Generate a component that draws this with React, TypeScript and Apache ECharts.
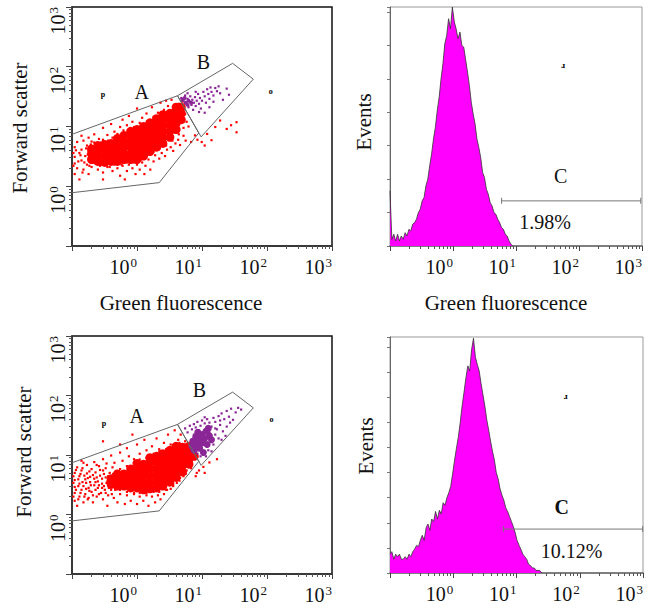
import React, { useEffect, useRef } from 'react';
import * as echarts from 'echarts';

const FONT = '"Liberation Serif", "Times New Roman", Times, serif';

// ---------- axis tick values ----------
const minorTicks = [0.2, 0.3, 0.4, 0.5, 0.6, 0.7, 0.8, 0.9, 2, 3, 4, 5, 6, 7, 8, 9, 20, 30, 40, 50, 60, 70, 80, 90, 200, 300, 400, 500, 600, 700, 800, 900];

// ---------- gates (fluorescence, forward scatter) ----------
const gateA = [[0.1, 7.4], [4.2, 32.7], [8.9, 7.8], [2.2, 1.15], [0.1, 0.78]];
const gateB = [[4.2, 32.7], [29.6, 114], [61.6, 62], [9.7, 6.7], [4.2, 32.7]];

// ---------- top scatter ----------
const topRedCore = [
  [0.2, 2.8], [0.2, 3.5], [0.2, 4.2],
  [0.25, 2.6], [0.25, 3.3], [0.25, 4.2], [0.25, 4.8],
  [0.32, 2.5], [0.32, 3.2], [0.32, 4.0], [0.32, 5.0],
  [0.4, 2.6], [0.4, 3.3], [0.4, 4.2], [0.4, 5.2],
  [0.5, 2.6], [0.5, 3.3], [0.5, 4.2], [0.5, 5.2], [0.5, 6.3],
  [0.63, 2.8], [0.63, 3.5], [0.63, 4.5], [0.63, 5.6], [0.63, 7.1],
  [0.8, 2.8], [0.8, 3.5], [0.8, 4.5], [0.8, 5.6], [0.8, 7.1], [0.8, 8.3],
  [1, 2.8], [1, 3.5], [1, 4.5], [1, 5.6], [1, 7.1], [1, 8.9],
  [1.26, 3.2], [1.26, 4], [1.26, 5], [1.26, 6.3], [1.26, 7.9], [1.26, 10],
  [1.58, 3.8], [1.58, 4.8], [1.58, 6], [1.58, 7.6], [1.58, 9.5], [1.58, 11.5],
  [2, 4.5], [2, 5.6], [2, 7.1], [2, 8.9], [2, 11.2], [2, 13.5],
  [2.5, 5.2], [2.5, 6.6], [2.5, 8.3], [2.5, 10.5], [2.5, 13.2], [2.5, 15.8],
  [3.2, 6.6], [3.2, 8.3], [3.2, 10.5], [3.2, 13.2], [3.2, 16.6],
  [4, 8.9], [4, 11.2], [4, 14.1], [4, 17.8], [4, 21],
  [4.8, 13], [4.8, 16.6], [4.8, 21],
];
const topRedSparse = [
  [0.11, 1.6], [0.11, 2.4], [0.11, 3.1], [0.11, 4.5], [0.12, 5.5], [0.12, 2.0], [0.13, 3.6], [0.13, 1.3], [0.14, 2.7], [0.14, 4.1],
  [0.15, 5.8], [0.15, 1.9], [0.16, 3.2], [0.17, 2.3], [0.17, 4.8], [0.18, 1.6], [0.18, 6.5], [0.19, 2.9],
  [0.14, 7.0], [0.2, 5.6], [0.22, 7.4], [0.26, 6.2], [0.3, 9.5], [0.3, 6.0], [0.35, 7.2], [0.4, 11], [0.42, 6.5], [0.45, 8.2],
  [0.5, 7.5], [0.55, 9.8], [0.6, 13], [0.62, 8.6], [0.7, 10.5], [0.75, 15], [0.85, 12], [0.9, 9.8], [1.0, 20], [1.1, 11.5],
  [1.2, 14], [1.4, 16.5], [1.5, 12.5], [1.7, 21], [1.8, 14.5], [2.1, 17], [2.3, 25], [2.6, 19], [3.0, 22], [3.4, 28], [3.6, 20], [2.8, 27],
  [0.2, 2.1], [0.25, 1.9], [0.3, 1.7], [0.35, 2.1], [0.42, 1.8], [0.5, 2.0], [0.55, 1.5], [0.6, 2.2], [0.7, 1.8], [0.75, 2.3],
  [0.85, 2.0], [0.95, 1.6], [1.0, 2.3], [1.1, 1.9], [1.2, 2.5], [1.35, 2.2], [1.5, 2.8], [1.6, 1.9], [1.8, 2.6], [1.9, 3.3],
  [2.2, 2.9], [2.4, 3.6], [2.7, 3.2], [2.9, 4.1], [3.3, 4.5], [3.6, 3.9], [3.9, 5.2], [4.3, 6.0], [4.6, 4.9], [5.2, 7.0],
  [5.6, 5.8], [0.3, 1.3], [0.65, 1.3], [1.3, 1.6],
  [0.18, 3.9], [0.22, 4.6], [0.23, 3.0], [0.28, 2.3], [0.28, 5.4], [0.36, 5.8], [0.45, 2.3], [0.56, 6.8], [0.7, 2.5], [0.72, 7.8],
  [0.9, 2.5], [0.9, 9.0], [1.15, 2.8], [1.15, 9.3], [1.4, 3.3], [1.4, 11.0], [1.8, 3.8], [1.8, 12.5], [2.2, 4.2], [2.2, 14.8],
  [2.8, 4.8], [2.8, 17], [3.5, 5.8], [3.5, 18.5], [4.4, 7.4], [4.4, 24], [5.2, 9.5], [5.5, 16], [5.8, 12], [6.2, 10], [5.0, 26],
  [7.8, 7.1], [9.9, 5.5], [14, 5.9], [19, 12.6], [24, 9.1], [34, 8.0], [34, 11.8], [12, 7.5], [8.5, 6.0], [16, 9.8], [28, 10.5], [11, 4.8], [6.8, 5.5],
  [0.105, 2.2], [0.105, 3.6], [0.115, 4.0], [0.125, 2.6], [0.135, 3.3], [0.145, 1.7], [0.155, 2.5], [0.165, 4.3], [0.175, 3.4], [0.185, 2.2],
  [0.195, 5.0], [0.21, 2.5], [0.22, 5.4], [0.27, 2.2], [0.3, 5.8], [0.38, 2.1], [0.45, 6.0], [0.58, 2.3], [0.6, 7.0], [0.75, 8.4],
];
const topPurpleCore = [[5.0, 28], [5.6, 25], [6.2, 27], [6.0, 23], [5.4, 30], [6.8, 25]];
const topPurple = [
  [4.8, 30], [5.2, 27], [5.5, 33], [5.8, 24], [6.0, 29], [6.2, 21], [6.5, 26], [6.6, 32], [6.9, 23], [7.1, 28],
  [7.3, 19], [7.5, 25], [7.8, 31], [8.0, 22], [8.3, 27], [8.7, 35], [9.0, 24], [9.3, 30], [9.6, 20], [10, 27],
  [10.5, 38], [11, 32], [11.5, 25], [12, 42], [12.5, 35], [13, 29], [13.5, 45], [14, 38], [15, 33], [16, 44],
  [17, 39], [18, 47], [19, 36], [21, 28], [24, 43], [11, 17], [9, 17.5], [13, 21], [8, 38], [6, 36], [15, 26], [26, 34],
];

// ---------- bottom scatter ----------
const bottomRedCore = [
  [0.4, 3.2], [0.4, 4.0],
  [0.5, 3.0], [0.5, 3.8], [0.5, 4.8],
  [0.63, 3.0], [0.63, 3.8], [0.63, 4.8],
  [0.8, 2.8], [0.8, 3.6], [0.8, 4.6], [0.8, 5.8],
  [1, 2.8], [1, 3.6], [1, 4.6], [1, 5.8], [1, 7.2],
  [1.26, 2.6], [1.26, 3.4], [1.26, 4.4], [1.26, 5.6], [1.26, 7.0],
  [1.58, 2.7], [1.58, 3.5], [1.58, 4.5], [1.58, 5.8], [1.58, 7.4], [1.58, 9.0],
  [2, 2.8], [2, 3.6], [2, 4.6], [2, 5.9], [2, 7.6], [2, 9.5],
  [2.5, 3.0], [2.5, 3.9], [2.5, 5.0], [2.5, 6.4], [2.5, 8.2], [2.5, 10.5],
  [3.2, 3.5], [3.2, 4.5], [3.2, 5.8], [3.2, 7.4], [3.2, 9.5], [3.2, 12],
  [4, 4.2], [4, 5.4], [4, 6.9], [4, 8.8], [4, 11.2], [4, 14],
  [5, 5.2], [5, 6.6], [5, 8.4], [5, 10.7], [5, 13.5],
  [6.3, 7.0], [6.3, 9], [6.3, 11.5], [6.3, 14],
  [7.6, 9.5], [7.2, 10.5],
];
const bottomRedSparse = [
  [0.11, 1.7], [0.11, 2.3], [0.11, 2.9], [0.11, 3.8], [0.11, 5.0], [0.12, 1.4], [0.12, 6.2], [0.13, 2.0], [0.13, 3.3], [0.13, 4.4],
  [0.14, 2.6], [0.14, 5.5], [0.15, 1.6], [0.15, 3.0], [0.16, 3.9], [0.16, 2.2], [0.17, 4.9], [0.17, 6.8], [0.18, 1.9], [0.18, 2.8],
  [0.19, 3.5], [0.19, 4.3], [0.2, 5.8], [0.2, 2.4], [0.21, 1.6], [0.22, 3.1], [0.22, 4.0], [0.23, 5.1], [0.24, 2.0], [0.25, 2.8],
  [0.25, 3.6], [0.26, 6.5], [0.27, 4.5], [0.28, 2.3], [0.29, 3.3], [0.3, 5.5], [0.3, 1.8], [0.32, 2.6], [0.33, 4.2], [0.34, 7.2],
  [0.35, 3.6], [0.36, 2.1], [0.38, 5.0], [0.4, 2.6], [0.42, 6.2], [0.44, 1.9], [0.45, 4.3], [0.47, 3.4],
  [0.14, 8.0], [0.22, 7.6], [0.3, 8.5], [0.4, 9.8], [0.45, 7.4], [0.55, 11], [0.6, 8.0], [0.7, 13], [0.75, 9.5], [0.9, 8.5],
  [1.0, 15], [1.1, 10.5], [1.3, 18], [1.4, 12], [1.7, 14], [2.0, 19], [2.2, 12.5], [2.6, 16], [3.0, 22], [3.3, 15],
  [3.8, 26], [4.3, 18], [4.7, 22], [5.5, 17], [0.85, 22], [0.3, 17], [0.55, 15],
  [0.35, 1.4], [0.5, 1.6], [0.55, 2.2], [0.65, 1.5], [0.7, 2.1], [0.8, 1.7], [0.9, 2.2], [1.0, 1.5], [1.1, 2.0], [1.25, 1.7],
  [1.4, 2.1], [1.5, 1.4], [1.7, 2.0], [1.9, 1.6], [2.1, 2.1], [2.3, 1.8], [2.6, 2.2], [2.9, 2.6], [3.3, 2.7], [3.6, 3.2],
  [4.1, 3.4], [4.6, 4.1], [5.2, 4.4], [5.8, 5.5], [6.6, 6.3],
  [0.55, 2.6], [0.55, 5.8], [0.7, 2.4], [0.7, 6.5], [0.9, 2.3], [0.9, 7.4], [1.1, 2.3], [1.1, 8.4], [1.4, 2.3], [1.4, 8.9],
  [1.8, 2.4], [1.8, 10.5], [2.2, 2.4], [2.2, 11.5], [2.8, 2.6], [2.8, 12.5], [3.6, 3.0], [3.6, 14.5], [4.5, 3.7], [4.5, 16],
  [5.6, 4.8], [5.6, 15], [6.8, 6.0], [7.0, 8.0],
  [9, 5.5], [10.5, 6.3], [13, 7.5], [17, 8.5], [11, 5.0], [8, 4.4], [8.3, 5.0],
  [0.105, 2.0], [0.105, 3.4], [0.105, 4.4], [0.115, 2.6], [0.115, 5.6], [0.125, 1.8], [0.125, 3.0], [0.125, 3.9], [0.135, 4.8], [0.135, 2.3],
  [0.145, 3.5], [0.145, 6.0], [0.155, 2.0], [0.155, 4.5], [0.165, 2.7], [0.165, 3.4], [0.175, 1.8], [0.175, 4.1], [0.185, 2.5], [0.185, 5.3],
  [0.195, 3.1], [0.21, 2.1], [0.21, 4.6], [0.23, 3.5], [0.23, 2.6], [0.24, 4.2], [0.26, 3.1], [0.26, 2.2], [0.27, 5.6], [0.29, 2.8],
  [0.29, 4.0], [0.31, 3.0], [0.31, 4.8], [0.33, 2.3], [0.34, 3.4], [0.36, 4.4], [0.37, 2.8], [0.39, 3.7], [0.41, 2.2], [0.43, 4.8],
  [0.46, 2.6], [0.48, 5.4], [0.33, 6.0], [0.24, 6.8], [0.15, 7.4],
];
const bottomPurpleCore = [
  [7, 14], [7.2, 17], [7.5, 12], [8, 20], [8.3, 15], [9, 18], [9.2, 13], [10, 22], [10, 16], [11, 19],
  [11.5, 25], [12, 15], [13, 21], [14, 18], [12.5, 28], [8.6, 24], [10.5, 11],
];
const bottomPurpleSparse = [
  [5.5, 28], [6, 24], [6.5, 31], [7, 27], [7.5, 33], [8, 29], [8.5, 36], [9.5, 31], [10, 38], [11, 34],
  [12, 40], [13, 35], [14, 30], [15, 42], [16, 36], [17, 27], [18, 45], [19, 32], [20, 50], [22, 40],
  [24, 55], [26, 44], [28, 60], [30, 39], [33, 52], [36, 62], [40, 58], [16, 22], [18, 19], [21, 25],
  [24, 30], [27, 35], [15, 15], [12.5, 12], [14, 11.5], [11.5, 9.5], [9.5, 9.5], [8.5, 10.5], [20, 18], [23, 21],
  [13, 24], [9, 26], [7.5, 22], [6.8, 18], [8.2, 11.5], [16, 28], [19, 38], [11, 43],
];

// ---------- scatter annotations ----------
const topScatterLabels = [{ text: 'A', x: 1.18, y: 38 }, { text: 'B', x: 10.5, y: 121 }];
const topScatterMarks = [{ text: 'p', x: 0.3, y: 34 }, { text: 'o', x: 114, y: 38 }];
const bottomScatterLabels = [{ text: 'A', x: 0.99, y: 45 }, { text: 'B', x: 9.1, y: 126 }];
const bottomScatterMarks = [{ text: 'p', x: 0.31, y: 34 }, { text: 'o', x: 117, y: 39 }];

// ---------- histograms ----------
const binX = [
  0.100, 0.107, 0.115, 0.123, 0.132, 0.141, 0.151, 0.162, 0.174, 0.186,
  0.200, 0.214, 0.229, 0.245, 0.263, 0.282, 0.302, 0.324, 0.347, 0.372,
  0.398, 0.427, 0.457, 0.490, 0.525, 0.562, 0.603, 0.646, 0.692, 0.741,
  0.794, 0.851, 0.912, 0.977, 1.05, 1.12, 1.20, 1.29, 1.38, 1.48,
  1.58, 1.70, 1.82, 1.95, 2.09, 2.24, 2.40, 2.57, 2.75, 2.95,
  3.16, 3.39, 3.63, 3.89, 4.17, 4.47, 4.79, 5.13, 5.50, 5.89,
  6.31, 6.76, 7.24, 7.76, 8.32, 8.91, 9.55, 10.2, 11.0, 11.7,
  12.6, 13.5, 14.5, 15.5, 16.6, 17.8, 19.1, 20.4, 21.9, 23.4,
  25.1, 26.9,
];
const topHistCounts = [
  33, 4, 7, 3, 7, 3, 6, 4, 8, 6,
  10, 9, 13, 14, 16, 20, 22, 27, 29, 36,
  40, 48, 55, 64, 71, 81, 89, 100, 109, 121,
  126, 136, 130, 143, 134, 130, 124, 128, 120, 119,
  112, 104, 96, 86, 79, 73, 64, 59, 53, 44,
  41, 34, 31, 26, 24, 20, 19, 16, 14, 11,
  10, 7, 6, 3, 1, 0,
];
const bottomHistCounts = [
  15, 17, 11, 15, 13, 15, 11, 11, 13, 11,
  15, 13, 17, 19, 22, 21, 26, 30, 26, 36,
  39, 34, 43, 41, 49, 43, 50, 47, 56, 54,
  60, 64, 69, 79, 90, 99, 108, 120, 133, 144,
  155, 165, 161, 178, 187, 172, 166, 161, 151, 142,
  133, 122, 114, 105, 97, 90, 80, 75, 67, 62,
  58, 52, 49, 45, 41, 37, 32, 26, 22, 19,
  15, 13, 11, 7, 6, 4, 4, 2, 2, 2,
  0,
];
const topHistMax = 143;
const bottomHistMax = 188;
const topGateC = [[5.9, 27], [955, 27]];
const bottomGateC = [[6.2, 35], [990, 35]];
const topHistLabels = [{ text: 'C', x: 51, y: 42 }, { text: '1.98%', x: 29, y: 14.5 }];
const bottomHistLabels = [{ text: 'C', x: 52, y: 52.6 }, { text: '10.12%', x: 74, y: 17.7 }];
const topHistMarks = [{ text: 'ɹ', x: 56, y: 108 }];
const bottomHistMarks = [{ text: 'ɹ', x: 60, y: 141 }];

// ---------- option builders ----------
const rich = {
  b: { fontFamily: FONT, fontSize: 20, color: '#111', lineHeight: 22, verticalAlign: 'middle' },
  s: { fontFamily: FONT, fontSize: 13, color: '#111', verticalAlign: 'top', padding: [0, 0, 0, 1] },
};
const powLabel = (v: number) => {
  const e = Math.round(Math.log10(v));
  if (e < 0) return '';
  return `{b|10}{s|${e}}`;
};

function mainX(gridIndex: number, lineColor: string, margin: number) {
  return {
    type: 'log', logBase: 10, gridIndex, min: 0.1, max: 1000, position: 'bottom',
    axisLine: { show: true, onZero: false, lineStyle: { color: lineColor, width: 1.5 } },
    axisTick: { show: true, length: 5, lineStyle: { color: '#444' } },
    axisLabel: { formatter: powLabel, rich, align: 'right', margin },
    splitLine: { show: false },
  };
}
function minorX(gridIndex: number) {
  return {
    type: 'log', logBase: 10, gridIndex, min: 0.1, max: 1000, position: 'bottom',
    axisLine: { show: false, onZero: false },
    axisTick: { show: true, length: 3, customValues: minorTicks, lineStyle: { color: '#555' } },
    axisLabel: { show: false },
    splitLine: { show: false },
  };
}
function mainY(gridIndex: number) {
  return {
    type: 'log', logBase: 10, gridIndex, min: 0.1, max: 1000, position: 'left',
    axisLine: { show: true, onZero: false, lineStyle: { color: '#333', width: 1.5 } },
    axisTick: { show: true, length: 6, lineStyle: { color: '#444' } },
    axisLabel: { formatter: powLabel, rich, rotate: 90, align: 'right', verticalAlign: 'middle', margin: 14 },
    splitLine: { show: false },
  };
}
function minorY(gridIndex: number) {
  return {
    type: 'log', logBase: 10, gridIndex, min: 0.1, max: 1000, position: 'left',
    axisLine: { show: false, onZero: false },
    axisTick: { show: true, length: 3, customValues: minorTicks, lineStyle: { color: '#555' } },
    axisLabel: { show: false },
    splitLine: { show: false },
  };
}
function histY(gridIndex: number, max: number) {
  return {
    type: 'value', gridIndex, min: 0, max, interval: 20, position: 'left',
    axisLine: { show: true, onZero: false, lineStyle: { color: '#666', width: 1 } },
    axisTick: { show: true, length: 3, lineStyle: { color: '#777' } },
    axisLabel: { show: false },
    splitLine: { show: false },
  };
}

const RED = '#ff0000';
const PURPLE = '#8a2696';

function textSeries(xi: number, yi: number, items: { text: string; x: number; y: number }[], fontSize: number, fontWeight: string = 'normal', color = '#111') {
  return {
    type: 'scatter', xAxisIndex: xi, yAxisIndex: yi, symbolSize: 1, silent: true, z: 20,
    itemStyle: { color: 'rgba(0,0,0,0)', opacity: 0 },
    data: items.map((d) => ({ name: d.text, value: [d.x, d.y] })),
    label: { show: true, position: 'inside', formatter: '{b}', fontFamily: FONT, fontSize, fontWeight, color, opacity: 1 },
  };
}

function dots(xi: number, yi: number, data: number[][], color: string, symbol: string, size: number, z: number) {
  return { type: 'scatter', xAxisIndex: xi, yAxisIndex: yi, symbol, symbolSize: size, data, itemStyle: { color, opacity: 1 }, silent: true, z };
}

function scatterPanel(xi: number, yi: number, redCore: number[][], redSparse: number[][], purpleCore: number[][], purpleSparse: number[][], purpleCoreSize: number) {
  return [
    dots(xi, yi, redCore, RED, 'circle', 9, 2),
    dots(xi, yi, redSparse, RED, 'rect', 2.2, 2),
    dots(xi, yi, purpleCore, PURPLE, 'circle', purpleCoreSize, 3),
    dots(xi, yi, purpleSparse, PURPLE, 'rect', 2.2, 3),
    { type: 'line', xAxisIndex: xi, yAxisIndex: yi, data: gateA, showSymbol: false, symbol: 'none', lineStyle: { color: '#666', width: 1 }, silent: true, z: 5 },
    { type: 'line', xAxisIndex: xi, yAxisIndex: yi, data: gateB, showSymbol: false, symbol: 'none', lineStyle: { color: '#666', width: 1 }, silent: true, z: 5 },
  ];
}

function histPanel(xi: number, yi: number, counts: number[], gate: number[][]) {
  return [
    {
      type: 'line', xAxisIndex: xi, yAxisIndex: yi, data: counts.map((c, i) => [binX[i], c]),
      showSymbol: false, symbol: 'none', lineStyle: { color: '#333', width: 0.8 },
      areaStyle: { color: '#ff00ff', opacity: 1 }, silent: true, z: 2,
    },
    {
      type: 'line', xAxisIndex: xi, yAxisIndex: yi, data: gate, symbol: 'rect', symbolSize: [1, 6], showSymbol: true,
      lineStyle: { color: '#777', width: 1 }, itemStyle: { color: '#777' }, silent: true, z: 5,
    },
  ];
}

const titleText = (text: string, x: number, y: number, rotate = false) => ({
  type: 'text', x, y, rotation: rotate ? Math.PI / 2 : 0, silent: true,
  style: { text, fontFamily: FONT, fontSize: 21, fill: '#111', align: 'center', verticalAlign: 'middle' },
});

const option = {
  animation: false,
  backgroundColor: '#fff',
  grid: [
    { left: 72, top: 7, width: 260, height: 239, show: true, borderColor: '#111', borderWidth: 1.5, backgroundColor: 'transparent' },
    { left: 390, top: 7, width: 252, height: 239, show: true, borderColor: '#999', borderWidth: 1, backgroundColor: 'transparent' },
    { left: 72, top: 336, width: 260, height: 238, show: true, borderColor: '#111', borderWidth: 1.5, backgroundColor: 'transparent' },
    { left: 390, top: 337, width: 253, height: 236, show: true, borderColor: '#999', borderWidth: 1, backgroundColor: 'transparent' },
  ],
  xAxis: [
    mainX(0, '#333', 10), minorX(0),
    mainX(1, '#666', 10), minorX(1),
    mainX(2, '#333', 10), minorX(2),
    mainX(3, '#666', 10), minorX(3),
  ],
  yAxis: [
    mainY(0), minorY(0),
    histY(1, topHistMax),
    mainY(2), minorY(2),
    histY(3, bottomHistMax),
  ],
  series: [
    ...scatterPanel(0, 0, topRedCore, topRedSparse, topPurpleCore, topPurple, 4),
    textSeries(0, 0, topScatterLabels, 20),
    textSeries(0, 0, topScatterMarks, 8, 'bold', '#000'),
    ...histPanel(2, 2, topHistCounts, topGateC),
    textSeries(2, 2, topHistLabels, 20),
    textSeries(2, 2, topHistMarks, 9, 'bold', '#000'),
    ...scatterPanel(4, 3, bottomRedCore, bottomRedSparse, bottomPurpleCore, bottomPurpleSparse, 7),
    textSeries(4, 3, bottomScatterLabels, 20),
    textSeries(4, 3, bottomScatterMarks, 8, 'bold', '#000'),
    ...histPanel(6, 5, bottomHistCounts, bottomGateC),
    textSeries(6, 5, [bottomHistLabels[0]], 20, 'bold'),
    textSeries(6, 5, [bottomHistLabels[1]], 20),
    textSeries(6, 5, bottomHistMarks, 9, 'bold', '#000'),
  ],
  graphic: [
    titleText('Forward scatter', 20, 128, true),
    titleText('Forward scatter', 24, 452, true),
    titleText('Events', 364, 122, true),
    titleText('Events', 366, 446, true),
    titleText('Green fluorescence', 181, 303),
    titleText('Green fluorescence', 506, 303),
  ],
};

export default function App() {
  const ref = useRef<HTMLDivElement>(null);
  useEffect(() => {
    if (!ref.current) return;
    const chart = echarts.init(ref.current, null, { renderer: 'svg' });
    chart.setOption(option as any);
    return () => chart.dispose();
  }, []);
  return <div ref={ref} style={{ position: 'fixed', left: 0, top: 0, width: 652, height: 611, background: '#fff' }} />;
}
